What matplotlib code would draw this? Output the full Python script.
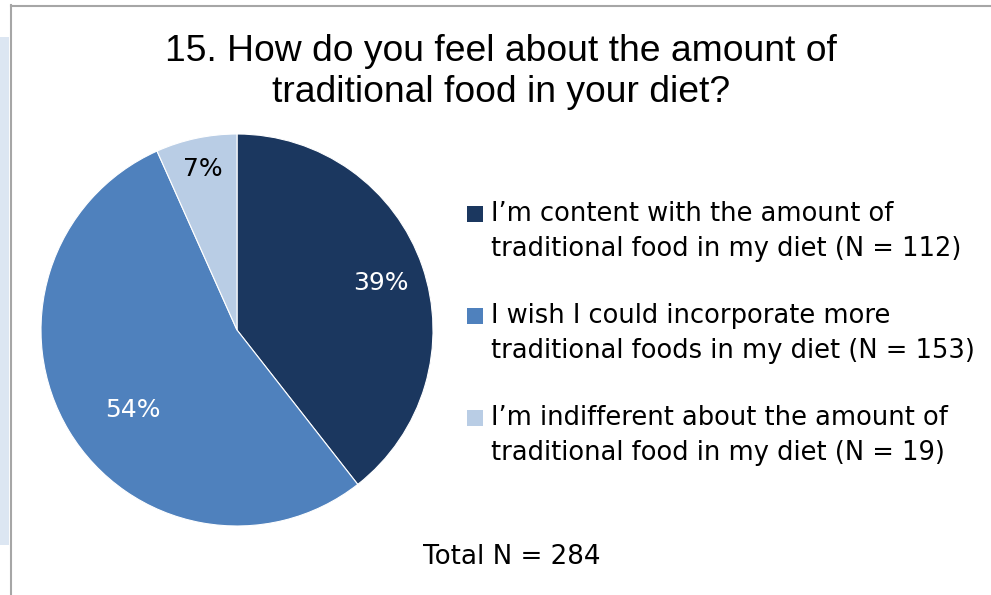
import numpy as np
import matplotlib.pyplot as plt
from matplotlib.patches import Rectangle

# survey answers
labels = ["I\u2019m content with the amount of\ntraditional food in my diet (N = 112)",
          "I wish I could incorporate more\ntraditional foods in my diet (N = 153)",
          "I\u2019m indifferent about the amount of\ntraditional food in my diet (N = 19)"]
counts = [112, 153, 19]
colors = ["#1B375F", "#4F81BD", "#B9CDE5"]
pct_colors = ["white", "white", "black"]
# label placement inside each wedge: radius fraction and angle nudge (deg)
pct_dist = [0.77, 0.67, 0.84]
pct_shift = [-1, 6.5, 0]
title = "15. How do you feel about the amount of\ntraditional food in your diet?"

W, H = 991, 595
fig = plt.figure(figsize=(W / 100, H / 100), dpi=100)

# slide background bits: pale strip on the left, grey frame of the chart box
fig.patches.append(Rectangle((0, 1 - 545 / H), 9 / W, (545 - 37) / H, transform=fig.transFigure,
                             facecolor="#DCE6F2", edgecolor="none"))
fig.add_artist(plt.Line2D([10.5 / W, 10.5 / W], [0, 1 - 5 / H], color="#A6A6A6", lw=1.5))
fig.add_artist(plt.Line2D([10.5 / W, 1], [1 - 5.5 / H, 1 - 5.5 / H], color="#A6A6A6", lw=1.5))

# pie
cx, cy, r = 237, 330, 196
ax = fig.add_axes([(cx - r) / W, (H - cy - r) / H, 2 * r / W, 2 * r / H])
wedges, _ = ax.pie(counts, colors=colors, startangle=90, counterclock=False, radius=1,
                   wedgeprops=dict(linewidth=0.8, edgecolor="white"))
ax.set_xlim(-1, 1)
ax.set_ylim(-1, 1)
ax.set_aspect("equal")
ax.axis("off")

total = sum(counts)
for w, n, d, s, c in zip(wedges, counts, pct_dist, pct_shift, pct_colors):
    ang = np.deg2rad((w.theta1 + w.theta2) / 2 + s)
    ax.text(d * np.cos(ang), d * np.sin(ang), f"{round(100 * n / total)}%",
            ha="center", va="center", fontsize=18, color=c, family="DejaVu Sans")

fig.text(501 / W, 1 - 72 / H, title, ha="center", va="center", fontsize=26.8,
         family="Liberation Sans", linespacing=1.22)

# legend drawn by hand so the swatch sits on the first line
leg_x, leg_y, step = 467, 213.5, 102
for i, (lab, col) in enumerate(zip(labels, colors)):
    y = leg_y + i * step
    fig.patches.append(Rectangle((leg_x / W, 1 - (y + 8) / H), 16 / W, 16 / H,
                                 transform=fig.transFigure, facecolor=col, edgecolor="none"))
    fig.text(491 / W, 1 - (y + 18) / H, lab, ha="left", va="center", fontsize=18.5,
             family="DejaVu Sans", linespacing=1.45)

fig.text(512 / W, 1 - 557 / H, f"Total N = {total}", ha="center", va="center",
         fontsize=18.8, family="DejaVu Sans")

fig.savefig("out.png", dpi=100, facecolor="white")
